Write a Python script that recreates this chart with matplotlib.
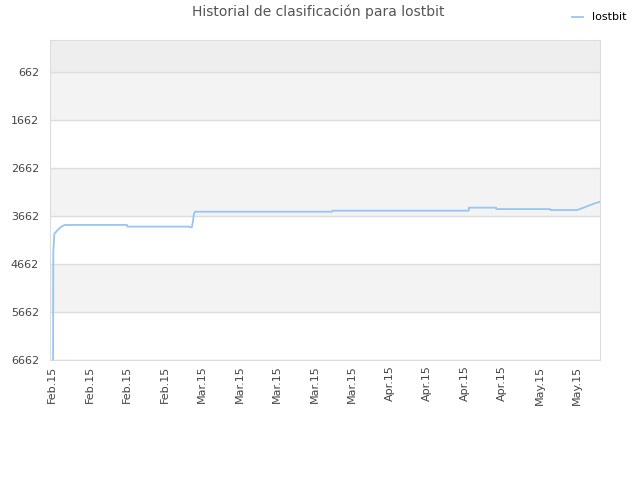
import numpy as np
import pandas as pd
import matplotlib
matplotlib.use("Agg")
import matplotlib.pyplot as plt
import matplotlib.dates as mdates

# datos: dias desde el 1 feb 2015 y puesto en la clasificacion
inicio = pd.Timestamp("2015-02-01")
dias = [0.2, 0.25, 0.35, 0.45, 0.8, 1.2, 1.6, 2.0, 2.4, 14.0, 14.05, 25.6, 25.8, 26.1,
        26.3, 26.5, 26.7, 52.3, 52.35, 77.8, 77.85, 82.9, 82.95, 93.0, 93.05, 98.0,
        98.5, 99.0, 99.5, 100.0, 100.5, 101.0, 101.5, 102.0, 102.3]
puestos = [6662, 4400, 4226, 4030, 3990, 3940, 3900, 3870, 3850, 3850, 3885, 3885, 3900, 3900,
           3790, 3622, 3575, 3575, 3553, 3553, 3490, 3490, 3520, 3520, 3540, 3540,
           3520, 3500, 3480, 3455, 3435, 3415, 3395, 3380, 3366]
yticks = [662, 1662, 2662, 3662, 4662, 5662, 6662]

fechas = inicio + pd.to_timedelta(dias, unit="D")

fig = plt.figure(figsize=(6.4, 4.8), dpi=100)
ax = fig.add_axes([50/640, 120/480, 550/640, 320/480])

# bandas de fondo alternas
ax.axhspan(0, yticks[0], color="#eeeeee", zorder=0, lw=0)
for i in range(len(yticks) - 1):
    if (len(yticks) - 2 - i) % 2 == 1:
        ax.axhspan(yticks[i], yticks[i + 1], color="#f3f3f3", zorder=0, lw=0)

ax.plot(fechas, puestos, color="#97c5f5", lw=1.3, label="lostbit", zorder=3)

ax.set_ylim(6662, 0)
ax.set_yticks(yticks)
ax.set_xlim(inicio - pd.Timedelta(days=0.37), inicio + pd.Timedelta(days=102.3))
ax.xaxis.set_major_locator(mdates.WeekdayLocator(byweekday=mdates.SU))
ax.xaxis.set_major_formatter(mdates.DateFormatter("%b.%y"))
ax.grid(axis="y", color="#dddddd", lw=1)
ax.set_axisbelow(True)
ax.tick_params(axis="y", length=0, labelsize=8, colors="#444444", pad=8)
ax.tick_params(axis="x", length=0, labelsize=8, colors="#444444", pad=4)
plt.setp(ax.get_xticklabels(), rotation=90)
for s in ax.spines.values():
    s.set_color("#dddddd")

fig.text(0.497, 0.975, "Historial de clasificación para lostbit", ha="center", va="center",
         fontsize=10, color="#555555")
fig.legend(loc="upper right", bbox_to_anchor=(0.995, 0.995), frameon=False, fontsize=8,
           handlelength=1.0, handletextpad=0.8)

fig.savefig("out.png")
